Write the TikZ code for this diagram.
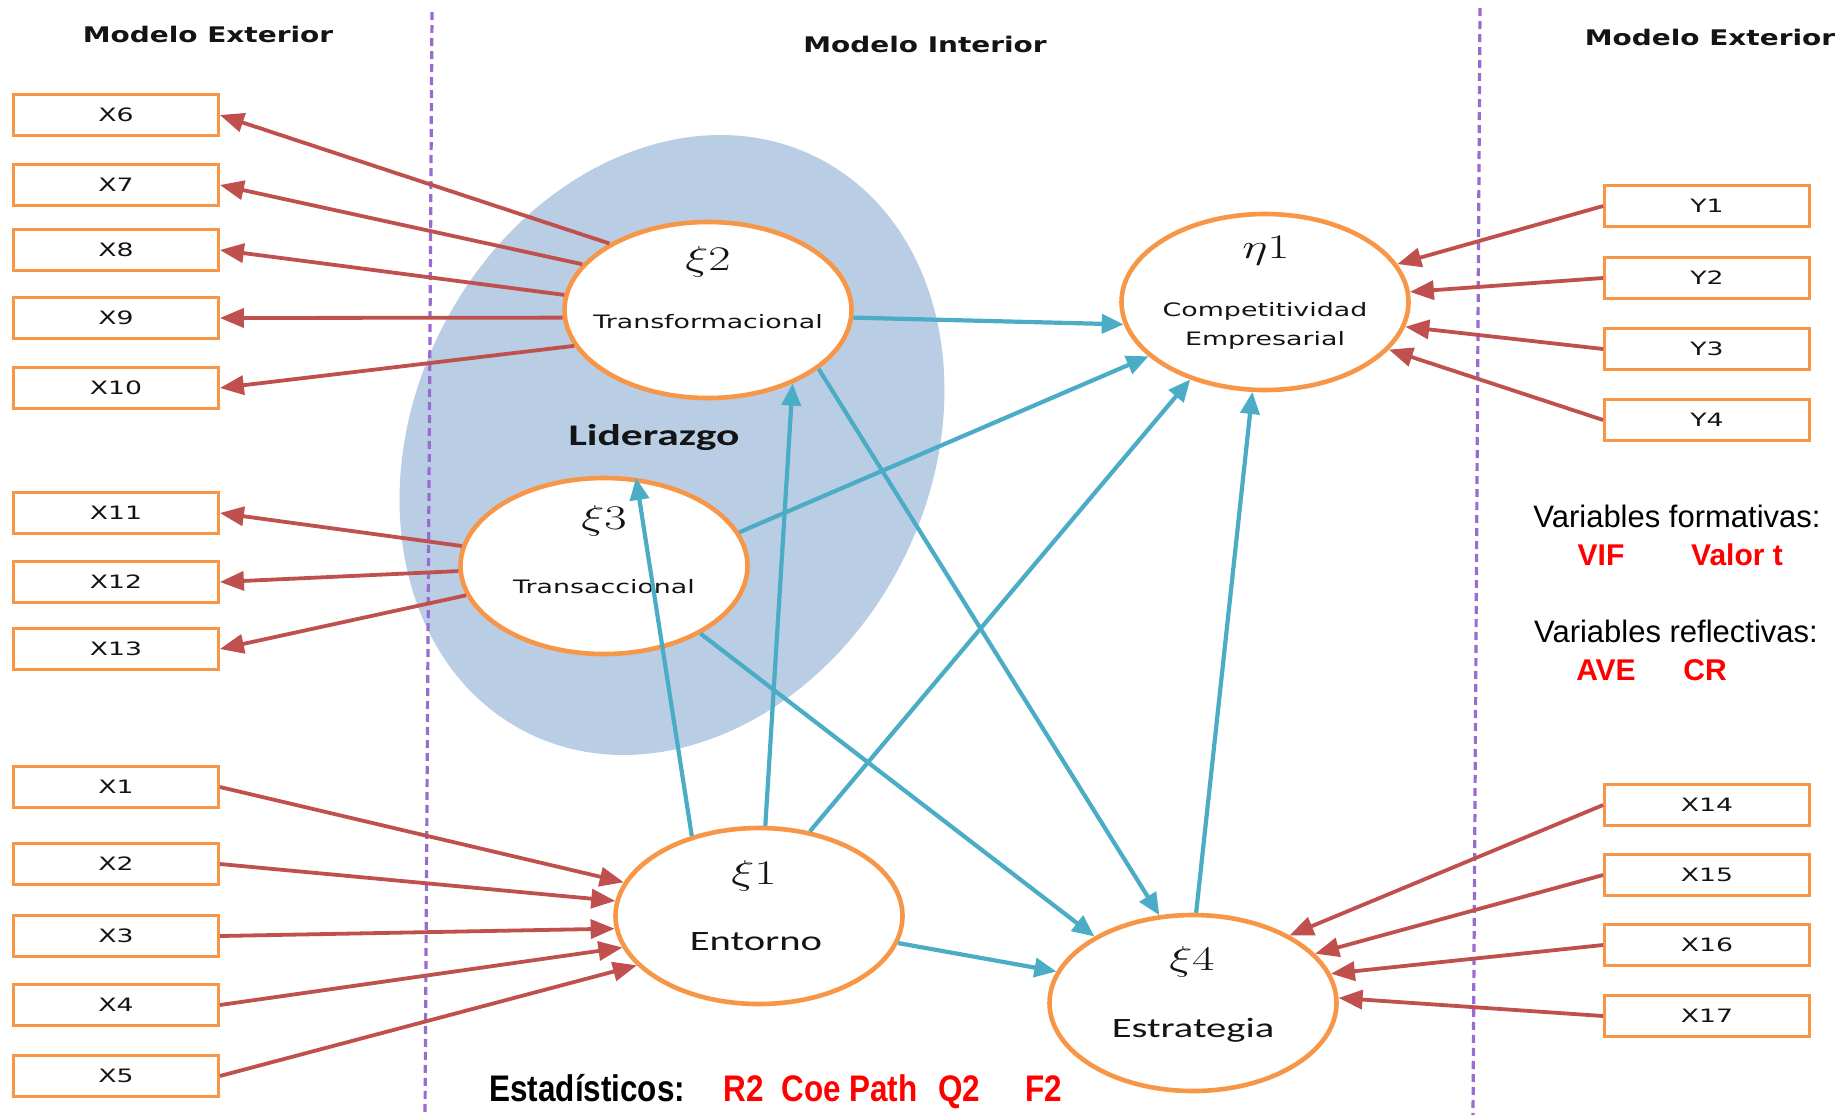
\documentclass[tikz,border=0pt]{standalone}
\usepackage{fontspec}
\usepackage{graphicx}
\usetikzlibrary{arrows.meta,shapes.geometric}

% Type faces used in the model drawing
\newfontfamily\widesans[FakeStretch=1.45]{DejaVu Sans}
\newfontfamily\titlesans[FakeStretch=1.3]{DejaVu Sans}
\newfontfamily\calib[FakeStretch=1.45]{Carlito}
\newfontfamily\arialsans{Liberation Sans}
\newfontfamily\narrowsans[FakeStretch=0.85]{Liberation Sans}

\definecolor{boxorange}{HTML}{F79646}
\definecolor{loadred}{HTML}{C0504D}
\definecolor{pathblue}{HTML}{4BACC6}
\definecolor{groupblue}{HTML}{B9CDE5}
\definecolor{divpurple}{HTML}{9A6BD0}
\definecolor{ink}{HTML}{141414}
\definecolor{statred}{HTML}{FF0000}

\tikzset{
  indicator/.style={draw=boxorange, line width=1.4pt, fill=white,
    minimum width=102.5pt, minimum height=20.5pt, inner sep=0pt,
    font=\widesans\fontsize{9.2pt}{11pt}\selectfont, text=ink},
  construct/.style={ellipse, draw=boxorange, line width=2.3pt, fill=white,
    minimum width=143.5pt, minimum height=88pt, inner sep=0pt},
  symb/.style={inner sep=0pt, font=\fontsize{16pt}{18pt}\selectfont, text=ink},
  cname/.style={inner sep=0pt, font=\widesans\fontsize{9.25pt}{14.5pt}\selectfont,
    text=ink, align=center},
  cnamecal/.style={inner sep=0pt, font=\calib\fontsize{14pt}{16pt}\selectfont, text=ink},
  heading/.style={inner sep=0pt, font=\titlesans\bfseries\fontsize{10.75pt}{13pt}\selectfont, text=ink},
  loading/.style={draw=loadred, line width=1.9pt, -{Triangle[length=12pt,width=9.5pt]}},
  structural/.style={draw=pathblue, line width=2.1pt, -{Triangle[length=11pt,width=9.5pt]}},
  divider/.style={draw=divpurple, line width=1.6pt, dash pattern=on 4pt off 2.5pt},
  note/.style={inner sep=0pt, font=\arialsans\fontsize{15.5pt}{18pt}\selectfont, text=black},
  noteval/.style={inner sep=0pt, font=\arialsans\bfseries\fontsize{15pt}{18pt}\selectfont, text=statred},
  stat/.style={inner sep=0pt, anchor=base west, font=\narrowsans\bfseries\fontsize{18.5pt}{21pt}\selectfont}
}

\begin{document}
\begin{tikzpicture}[x=0.5pt, y=-0.5pt]
  \useasboundingbox (0,0) rectangle (1847,1115);
  \fill[white] (0,0) rectangle (1847,1115);

  % Leadership group behind the two leadership constructs
  \coordinate (blobc) at (672,445);
  \fill[groupblue, rotate around={63:(blobc)}] (blobc) ellipse [x radius=161pt, y radius=129pt];
  \node[inner sep=0pt, font=\calib\bfseries\fontsize{15pt}{17pt}\selectfont, text=ink] (lid) at (654,438) {Liderazgo};

  % Dividers between outer and inner model
  \coordinate (dl1) at (432,12);  \coordinate (dl2) at (425,1115);
  \coordinate (dr1) at (1480,8);  \coordinate (dr2) at (1473,1115);
  \draw[divider] (dl1) -- (dl2);
  \draw[divider] (dr1) -- (dr2);

  % Headings
  \node[heading] (hl) at (208,34) {Modelo Exterior};
  \node[heading] (hm) at (925,44) {Modelo Interior};
  \node[heading] (hr) at (1710,37) {Modelo Exterior};

  % Indicators, left column
  \node[indicator] (x6)  at (116,115)  {X6};
  \node[indicator] (x7)  at (116,185)  {X7};
  \node[indicator] (x8)  at (116,250)  {X8};
  \node[indicator] (x9)  at (116,318)  {X9};
  \node[indicator] (x10) at (116,388)  {X10};
  \node[indicator] (x11) at (116,513)  {X11};
  \node[indicator] (x12) at (116,582)  {X12};
  \node[indicator] (x13) at (116,649)  {X13};
  \node[indicator] (x1)  at (116,787)  {X1};
  \node[indicator] (x2)  at (116,864)  {X2};
  \node[indicator] (x3)  at (116,936)  {X3};
  \node[indicator] (x4)  at (116,1005) {X4};
  \node[indicator] (x5)  at (116,1076) {X5};

  % Indicators, right column
  \node[indicator] (y1)  at (1707,206)  {Y1};
  \node[indicator] (y2)  at (1707,278)  {Y2};
  \node[indicator] (y3)  at (1707,349)  {Y3};
  \node[indicator] (y4)  at (1707,420)  {Y4};
  \node[indicator] (x14) at (1707,805)  {X14};
  \node[indicator] (x15) at (1707,875)  {X15};
  \node[indicator] (x16) at (1707,945)  {X16};
  \node[indicator] (x17) at (1707,1016) {X17};

  % Latent constructs
  \node[construct] (xi2) at (708,310)  {};
  \node[construct] (eta) at (1265,302) {};
  \node[construct] (xi3) at (604,566)  {};
  \node[construct] (xi1) at (759,916)  {};
  \node[construct] (xi4) at (1193,1003) {};

  \node[symb] (s2) at (708,262)  {\scalebox{1.4}[1]{$\xi 2$}};
  \node[cname] (t2) at (708,322) {Transformacional};
  \node[symb] (se) at (1266,251) {\scalebox{1.4}[1]{$\eta 1$}};
  \node[cname] (te) at (1265,326) {Competitividad\\Empresarial};
  \node[symb] (s3) at (604,521)  {\scalebox{1.4}[1]{$\xi 3$}};
  \node[cname] (t3) at (604,587) {Transaccional};
  \node[symb] (s1) at (754,876)  {\scalebox{1.4}[1]{$\xi 1$}};
  \node[cnamecal] (t1) at (756,942) {Entorno};
  \node[symb] (s4) at (1192,962) {\scalebox{1.4}[1]{$\xi 4$}};
  \node[cnamecal, anchor=base] (t4) at (1193,1037) {Estrategia};

  % Outer model loadings
  \draw[loading] (xi2.146) -- (x6.east);
  \draw[loading] (xi2.160) -- (x7.east);
  \draw[loading] (xi2.174) -- (x8.east);
  \draw[loading] (xi2.183) -- (x9.east);
  \draw[loading] (xi2.195) -- (x10.east);
  \draw[loading] (xi3.172) -- (x11.east);
  \draw[loading] (xi3.182) -- (x12.east);
  \draw[loading] (xi3.192) -- (x13.east);
  \draw[loading] (x1.east) -- (xi1.166);
  \draw[loading] (x2.east) -- (xi1.174);
  \draw[loading] (x3.east) -- (xi1.185);
  \draw[loading] (x4.east) -- (xi1.193);
  \draw[loading] (x5.east) -- (xi1.202);
  \draw[loading] (y1.west) -- (eta.16);
  \draw[loading] (y2.west) -- (eta.4);
  \draw[loading] (y3.west) -- (eta.-10);
  \draw[loading] (y4.west) -- (eta.-21);
  \draw[loading] (x14.west) -- (xi4.35);
  \draw[loading] (x15.west) -- (xi4.22);
  \draw[loading] (x16.west) -- (xi4.12);
  \draw[loading] (x17.west) -- (xi4.2);

  % Inner model paths
  \draw[structural] (xi2.-3)  -- (eta.189);
  \draw[structural] (xi2.-28) -- (xi4.111);
  \draw[structural] (xi3.14)  -- (eta.205);
  \draw[structural] (xi3.-35) -- (xi4.146);
  \draw[structural] (xi1.130) -- (xi3.70);
  \draw[structural] (xi1.86)  -- (xi2.-41);
  \draw[structural] (xi1.59)  -- (eta.226);
  \draw[structural] (xi1.-11) -- (xi4.167);
  \draw[structural] (xi4.88)  -- (eta.262);

  % Criteria notes
  \node[note] (vf) at (1677,516) {Variables formativas:};
  \node[noteval] (vif) at (1601,555) {VIF};
  \node[noteval] (vt) at (1737,555) {Valor t};
  \node[note] (vr) at (1676,631) {Variables reflectivas:};
  \node[noteval] (ave) at (1606,670) {AVE};
  \node[noteval] (cr) at (1705,670) {CR};

  \node[stat, text=black] (est) at (489,1101) {Estadísticos:};
  \node[stat, text=statred] (r2) at (723,1101) {R2};
  \node[stat, text=statred] (cp) at (781,1101) {Coe Path};
  \node[stat, text=statred] (q2) at (938,1101) {Q2};
  \node[stat, text=statred] (f2) at (1025,1101) {F2};
\end{tikzpicture}
\end{document}
